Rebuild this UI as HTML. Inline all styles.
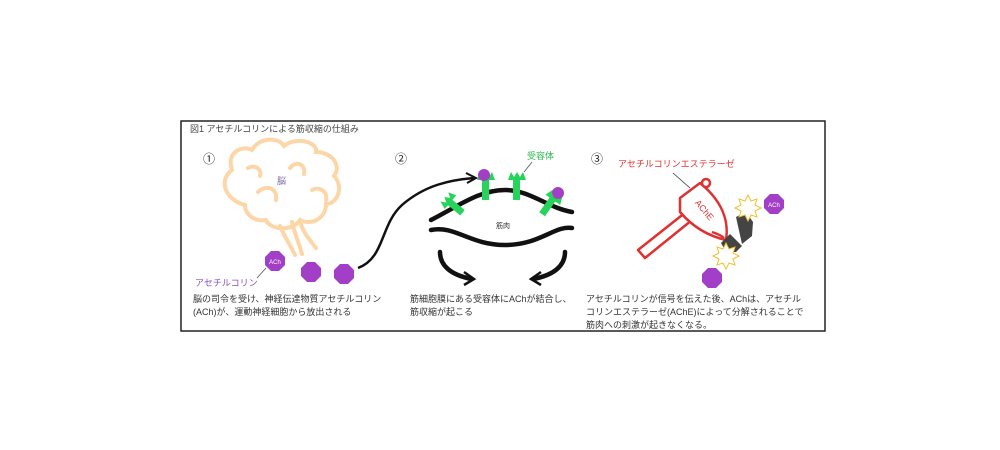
<!DOCTYPE html><html><head><meta charset="utf-8"><style>body{margin:0;background:#fff}svg{display:block}text{font-family:"Liberation Sans","Noto Sans CJK JP",sans-serif}</style></head><body>
<svg width="1000" height="450" viewBox="0 0 1000 450">
<rect x="181" y="121" width="644" height="210" fill="#fff" stroke="#222" stroke-width="1.5"/>
<text x="190" y="132" font-size="9" fill="#444">図1 アセチルコリンによる筋収縮の仕組み</text>
<g font-size="12" fill="#222"><text x="203" y="163">①</text><text x="395" y="163">②</text><text x="591" y="163">③</text></g>
<!-- brain -->
<g fill="none" stroke="#fdd6a8" stroke-width="4" stroke-linecap="round">
<path d="M245,205 C225,200 218,180 232,170 C226,152 242,145 252,150 C258,138 278,136 284,146 C296,136 318,142 316,152 C332,152 342,166 334,176 C344,186 338,204 326,204 C326,218 312,226 300,220 C292,232 270,230 266,220 C255,222 245,215 245,205 Z"/>
<path d="M292,222 C296,238 300,246 302,254 M300,220 C302,232 310,240 316,248 M280,226 C285,238 292,248 295,255"/>
<path d="M290,168 C296,160 306,164 304,174 M258,192 C266,184 278,188 276,200 M312,190 C320,186 328,192 326,200 M248,168 C256,164 262,170 260,176"/>
</g>
<text x="277" y="184" font-size="9" fill="#7a6aa0">脳</text>
<g fill="#a23fc6">
<polygon points="271,251 279,251 285,257 285,265 279,271 271,271 265,265 265,257"/>
<polygon points="307,262 315,262 321,268 321,276 315,282 307,282 301,276 301,268"/>
<polygon points="340,264 348,264 354,270 354,278 348,284 340,284 334,278 334,270"/>
<polygon points="708,268 716,268 722,274 722,282 716,288 708,288 702,282 702,274"/>
<polygon points="770,194 778,194 784,200 784,208 778,214 770,214 764,208 764,200"/>
</g>
<text x="275" y="264" font-size="6" fill="#fff" text-anchor="middle">ACh</text>
<text x="774" y="207" font-size="6" fill="#fff" text-anchor="middle">ACh</text>
<line x1="266" y1="268" x2="257" y2="278" stroke="#555" stroke-width="0.8"/>
<text x="195" y="286" font-size="9" fill="#8a4fc0">アセチルコリン</text>
<g font-size="9" fill="#333">
<text x="193" y="302">脳の司令を受け、神経伝達物質アセチルコリン</text>
<text x="193" y="315">(ACh)が、運動神経細胞から放出される</text>
<text x="410" y="302">筋細胞膜にある受容体にAChが結合し、</text>
<text x="410" y="315">筋収縮が起こる</text>
<text x="586" y="302">アセチルコリンが信号を伝えた後、AChは、アセチル</text>
<text x="586" y="315">コリンエステラーゼ(AChE)によって分解されることで</text>
<text x="586" y="328">筋肉への刺激が起きなくなる。</text>
</g>
<!-- arrow 1->2 -->
<path d="M358,268 C385,258 380,225 402,205 C425,185 450,180 474,178" fill="none" stroke="#111" stroke-width="2.5"/>
<path d="M466,173 L476,178 L467,183" fill="none" stroke="#111" stroke-width="2"/>
<!-- muscle -->
<g fill="none" stroke="#111" stroke-width="4.5" stroke-linecap="round">
<path d="M431,220 C460,205 480,190 505,190 C530,190 548,208 572,212"/>
<path d="M431,230 C455,225 470,245 505,245 C540,245 555,225 572,228"/>
<path d="M440,252 C440,265 450,275 472,279"/><path d="M565,252 C565,265 555,275 533,279"/>
</g>
<g fill="none" stroke="#111" stroke-width="2.5"><path d="M464,272 L474,279 L464,285"/><path d="M541,272 L531,279 L541,285"/></g>
<g fill="#27d45b">
<rect x="482" y="178" width="7" height="22"/><path d="M477,180 l3,-8 l3,5 l3,-5 l3,5 l3,-5 l3,8 z"/>
<rect x="513" y="178" width="7" height="22"/><path d="M508,180 l3,-8 l3,5 l3,-5 l3,5 l3,-5 l3,8 z"/>
<g transform="rotate(-50 456 208)"><rect x="453" y="198" width="7" height="18"/><path d="M448,200 l3,-8 l3,5 l3,-5 l3,5 l3,-5 l3,8 z"/></g>
<g transform="rotate(35 548 205)"><rect x="545" y="196" width="7" height="20"/><path d="M540,198 l3,-8 l3,5 l3,-5 l3,5 l3,-5 l3,8 z"/></g>
</g>
<circle cx="484" cy="175" r="6" fill="#a23fc6"/><circle cx="558" cy="193" r="6" fill="#a23fc6"/>
<text x="527" y="159" font-size="9" fill="#2dbb50">受容体</text>
<line x1="532" y1="162" x2="524" y2="172" stroke="#555" stroke-width="0.8"/>
<text x="496" y="228" font-size="7" fill="#333">筋肉</text>
<!-- axe -->
<text x="618" y="167" font-size="9" fill="#e03030">アセチルコリンエステラーゼ</text>
<line x1="673" y1="173" x2="690" y2="188" stroke="#333" stroke-width="0.8"/>
<g fill="#fff" stroke="#e03030" stroke-width="2.5" stroke-linejoin="round">
<path d="M638,250 L686,212 L692,220 L645,258 Z"/>
<path d="M680,198 L700,183 C716,196 730,215 726,240 C708,236 692,226 680,212 Z"/>
<path d="M712,232 C718,234 722,236 724,238" fill="none"/>
<circle cx="706" cy="183" r="4"/>
</g>
<text x="702" y="212" font-size="9" fill="#e03030" transform="rotate(50 702 212)" text-anchor="middle">AChE</text>
<!-- enzyme -->
<path d="M736,217 L746,212 L753,222 L752,236 L742,244 Z" fill="#444"/>
<path d="M721,243 L730,234 L742,246 L736,252 L726,252 Z" fill="#444"/>
<g fill="#fff" stroke="#f0c030" stroke-width="1">
<polygon points="748,195 751,201 757,199 755,205 761,208 755,211 757,217 751,215 748,221 745,215 739,217 741,211 735,208 741,205 739,199 745,201"/>
<polygon points="726,243 729,249 735,247 733,253 739,256 733,259 735,265 729,263 726,269 723,263 717,265 719,259 713,256 719,253 717,247 723,249"/>
</g>
</svg></body></html>
